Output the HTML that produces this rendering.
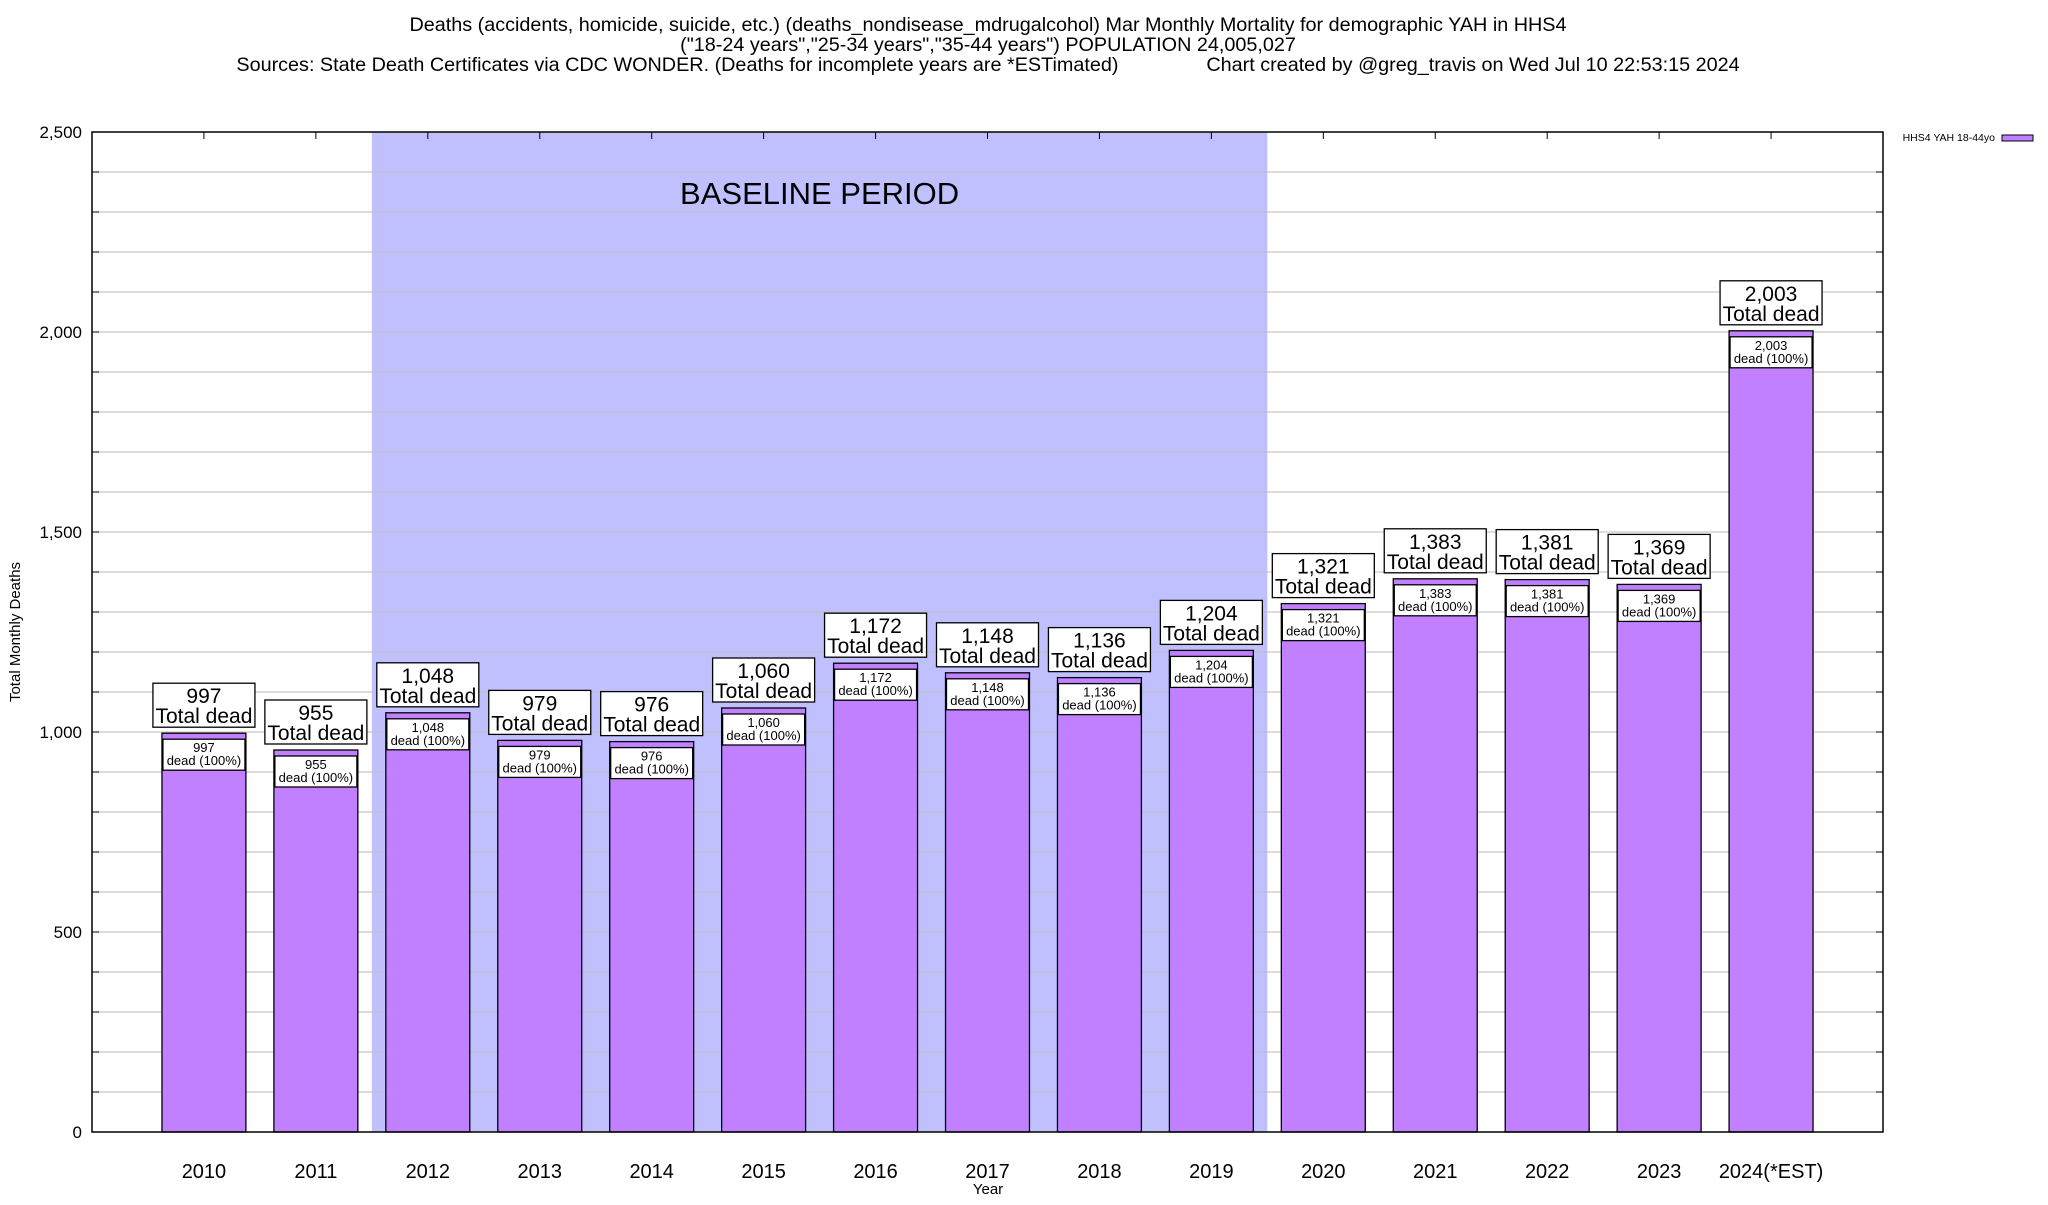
<!DOCTYPE html>
<html><head><meta charset="utf-8">
<style>
html,body{margin:0;padding:0;background:#fff;}
svg text{font-family:"Liberation Sans",sans-serif;}
</style></head>
<body>
<svg id="chart" width="2048" height="1200" viewBox="0 0 2048 1200" xmlns="http://www.w3.org/2000/svg">
<text x="988" y="31" font-size="19.8" text-anchor="middle">Deaths (accidents, homicide, suicide, etc.) (deaths_nondisease_mdrugalcohol) Mar Monthly Mortality for demographic YAH in HHS4</text>
<text x="988" y="51" font-size="19.8" text-anchor="middle">("18-24 years","25-34 years","35-44 years") POPULATION 24,005,027</text>
<text x="988" y="71" font-size="19.8" text-anchor="middle" xml:space="preserve">Sources: State Death Certificates via CDC WONDER. (Deaths for incomplete years are *ESTimated)                Chart created by @greg_travis on Wed Jul 10 22:53:15 2024</text>
<g id="plot"></g>
<text x="0" y="0" font-size="15" text-anchor="middle" transform="translate(20,632) rotate(-90)">Total Monthly Deaths</text>
<text x="988" y="1194" font-size="15" text-anchor="middle">Year</text>
<g>
<text x="1995" y="141" font-size="10.5" text-anchor="end">HHS4 YAH 18-44yo</text>
<rect x="2002" y="135" width="31" height="6" fill="#c080ff" stroke="#000" stroke-width="1"/>
</g>
</svg>
<script>
const categories = ["2010","2011","2012","2013","2014","2015","2016","2017","2018","2019","2020","2021","2022","2023","2024(*EST)"];
const values = [997,955,1048,979,976,1060,1172,1148,1136,1204,1321,1383,1381,1369,2003];
const yTicks = [0,500,1000,1500,2000,2500];
const baselineRange = [2,9];

const NS="http://www.w3.org/2000/svg";
const L=92,R=1883,T=132,B=1132;
const xs=i=>L+(i+1)*(R-L)/16;
const ys=v=>B-(v/2500)*(B-T);
const unit=(R-L)/16;
const g=document.getElementById('plot');
function mk(tag,attrs,parent){const e=document.createElementNS(NS,tag);for(const k in attrs)e.setAttribute(k,attrs[k]);(parent||g).appendChild(e);return e;}
const fmt=v=>v.toLocaleString('en-US');

const bl=mk('rect',{x:xs(baselineRange[0]-0.5),y:T,width:(baselineRange[1]-baselineRange[0]+1)*unit,height:B-T,fill:'#c0c0ff'});


for(let v=100;v<2500;v+=100){
  const ln=mk('line',{x1:L,x2:R,y1:ys(v),y2:ys(v),stroke:'#bbb','stroke-width':1});
  
  
  mk('line',{x1:L,x2:L+7,y1:ys(v),y2:ys(v),stroke:'#000'});
  mk('line',{x1:R-7,x2:R,y1:ys(v),y2:ys(v),stroke:'#000'});
}
const bt=mk('text',{x:(xs(baselineRange[0]-0.5)+xs(baselineRange[1]+0.5))/2,y:204,'font-size':31,'text-anchor':'middle'});
bt.textContent='BASELINE PERIOD';


yTicks.forEach(v=>{
  const t=mk('text',{x:82,y:ys(v)+6,'font-size':17,'text-anchor':'end'});
  t.textContent=fmt(v);
  
  
});
categories.forEach((c,i)=>{
  const v=values[i],cx=xs(i),w=unit*0.75;
  mk('line',{x1:cx,x2:cx,y1:T,y2:T+7,stroke:'#000'});
  const r=mk('rect',{x:cx-w/2,y:ys(v),width:w,height:B-ys(v),fill:'#c080ff',stroke:'#000','stroke-width':1.3});
  
  
  const top=ys(v);
  const ib=mk('rect',{x:cx-41,y:top+6,width:82,height:31,fill:'#fff',stroke:'#000','stroke-width':1.3});
  
  
  const t1=mk('text',{x:cx,y:top+19,'font-size':13,'text-anchor':'middle'});t1.textContent=fmt(v);
  
  
  const t2=mk('text',{x:cx,y:top+32,'font-size':13,'text-anchor':'middle'});t2.textContent='dead (100%)';
  
  
  const ob=mk('rect',{x:cx-51,y:top-50,width:102,height:44,fill:'#fff',stroke:'#000','stroke-width':1.3});
  
  
  const t3=mk('text',{x:cx,y:top-30,'font-size':21,'text-anchor':'middle'});t3.textContent=fmt(v);
  
  
  const t4=mk('text',{x:cx,y:top-10,'font-size':21,'text-anchor':'middle'});t4.textContent='Total dead';
  
  
  const xl=mk('text',{x:cx,y:1178,'font-size':20,'text-anchor':'middle'});xl.textContent=c;
  
  
});
const fr=mk('rect',{x:L,y:T,width:R-L,height:B-T,fill:'none',stroke:'#000','stroke-width':1.5});


</script>
</body></html>
